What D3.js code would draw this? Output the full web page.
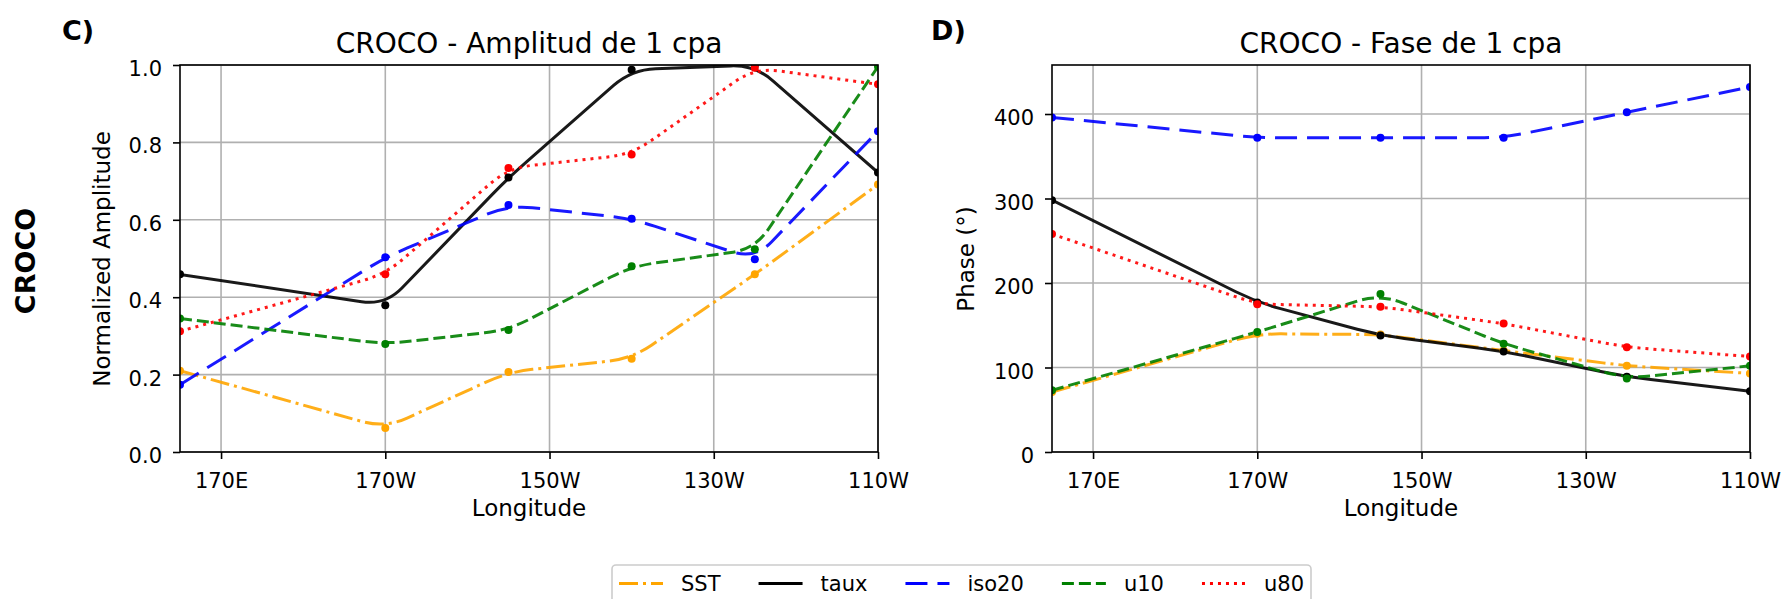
<!DOCTYPE html>
<html>
<head>
<meta charset="utf-8">
<script src="https://cdn.jsdelivr.net/npm/d3@7"></script>
<style>
  body { margin: 0; background: #fff; }
  svg { font-family: "DejaVu Sans", sans-serif; }
</style>
</head>
<body>
<div id="chart"></div>
<script>
// longitudes of the moorings (degrees east)
var lons = [165, 190, 205, 220, 235, 250];
var xTickValues = [170, 190, 210, 230, 250];
var xTickLabels = ["170E", "170W", "150W", "130W", "110W"];

var seriesNames = ["SST", "taux", "iso20", "u10", "u80"];

// panel C - normalized amplitude
var ampSST   = [0.210, 0.062, 0.207, 0.241, 0.459, 0.691];
var ampTaux  = [0.459, 0.379, 0.709, 0.988, 1.000, 0.722];
var ampIso20 = [0.174, 0.503, 0.638, 0.603, 0.498, 0.829];
var ampU10   = [0.345, 0.279, 0.315, 0.480, 0.524, 0.996];
var ampU80   = [0.312, 0.459, 0.734, 0.769, 0.993, 0.950];
var ampTicks = [0, 0.2, 0.4, 0.6, 0.8, 1.0];

// panel D - phase (degrees)
var phaseSST   = [71, 140, 139, 120, 102, 93];
var phaseTaux  = [298, 177, 138, 119, 89, 72];
var phaseIso20 = [396, 372, 372, 372, 402, 432];
var phaseU10   = [73, 142, 187, 128, 87, 102];
var phaseU80   = [258, 175, 172, 152, 124, 113];
var phaseTicks = [0, 100, 200, 300, 400];

// styles
var colors = ["#ffa500", "#000000", "#0000ff", "#008000", "#ff0000"];
var dashes = ["19,5,3,5", null, "22,10", "12,5", "3,5"];

var plotTop = 65, plotBottom = 452, plotWidth = 698;

var svg = d3.select("#chart").append("svg")
    .attr("width", 1785)
    .attr("height", 599);

// straight segments with softened corners (the original lines are lightly smoothed)
function softLine(pts, r) {
  var p = d3.path();
  p.moveTo(pts[0][0], pts[0][1]);
  for (var i = 1; i < pts.length - 1; i++) {
    var a = pts[i - 1], c = pts[i], b = pts[i + 1];
    var d1 = Math.hypot(c[0] - a[0], c[1] - a[1]);
    var d2 = Math.hypot(b[0] - c[0], b[1] - c[1]);
    var t1 = Math.min(r, d1 / 2) / d1, t2 = Math.min(r, d2 / 2) / d2;
    p.lineTo(c[0] - (c[0] - a[0]) * t1, c[1] - (c[1] - a[1]) * t1);
    p.quadraticCurveTo(c[0], c[1], c[0] + (b[0] - c[0]) * t2, c[1] + (b[1] - c[1]) * t2);
  }
  var last = pts[pts.length - 1];
  p.lineTo(last[0], last[1]);
  return p.toString();
}

function drawPanel(p) {
  var x = d3.scaleLinear().domain([165, 250]).range([p.left, p.left + plotWidth]);
  var y = d3.scaleLinear().domain([0, p.yMax]).range([plotBottom, plotTop]);
  var g = svg.append("g");

  g.append("clipPath").attr("id", "clip-" + p.key)
    .append("rect")
    .attr("x", p.left).attr("y", plotTop)
    .attr("width", plotWidth).attr("height", plotBottom - plotTop);

  // grid
  g.append("g").selectAll("line").data(xTickValues).join("line")
      .attr("x1", function(d) { return x(d); })
      .attr("x2", function(d) { return x(d); })
      .attr("y1", plotTop).attr("y2", plotBottom)
      .attr("stroke", "#b0b0b0").attr("stroke-width", 1.6);
  g.append("g").selectAll("line").data(p.yTicks).join("line")
      .attr("x1", p.left).attr("x2", p.left + plotWidth)
      .attr("y1", function(d) { return y(d); })
      .attr("y2", function(d) { return y(d); })
      .attr("stroke", "#b0b0b0").attr("stroke-width", 1.6);

  var plot = g.append("g").attr("clip-path", "url(#clip-" + p.key + ")");
  plot.selectAll("path").data(p.series).join("path")
      .attr("d", function(d) {
        return softLine(d.map(function(v, i) { return [x(lons[i]), y(v)]; }), 24);
      })
      .attr("fill", "none")
      .attr("stroke", function(d, i) { return colors[i]; })
      .attr("stroke-width", 3)
      .attr("stroke-opacity", 0.9)
      .attr("stroke-dasharray", function(d, i) { return dashes[i]; });

  p.series.forEach(function(vals, si) {
    plot.append("g").selectAll("circle").data(vals).join("circle")
        .attr("cx", function(d, i) { return x(lons[i]); })
        .attr("cy", function(d) { return y(d); })
        .attr("r", 4)
        .attr("fill", colors[si]);
  });

  // frame
  g.append("rect")
      .attr("x", p.left).attr("y", plotTop)
      .attr("width", plotWidth).attr("height", plotBottom - plotTop)
      .attr("fill", "none").attr("stroke", "#000").attr("stroke-width", 1.6);

  // axes
  var xAxis = g.append("g")
      .attr("transform", "translate(0," + plotBottom + ")")
      .call(d3.axisBottom(x).tickValues(xTickValues)
        .tickFormat(function(d, i) { return xTickLabels[i]; })
        .tickSize(7).tickSizeOuter(0));
  xAxis.select(".domain").remove();
  xAxis.attr("font-size", 21).attr("font-family", null);
  xAxis.selectAll("line").attr("stroke-width", 1.6);
  xAxis.selectAll("text").attr("y", 36).attr("dy", null).attr("fill", "#000");

  var yAxis = g.append("g")
      .attr("transform", "translate(" + p.left + ",0)")
      .call(d3.axisLeft(y).tickValues(p.yTicks).tickFormat(p.fmt)
        .tickSize(7).tickPadding(11).tickSizeOuter(0));
  yAxis.select(".domain").remove();
  yAxis.attr("font-size", 21).attr("font-family", null);
  yAxis.selectAll("line").attr("stroke-width", 1.6);
  yAxis.selectAll("text").attr("dy", "0.5em").attr("fill", "#000");

  // labels
  g.append("text")
      .attr("x", p.left + plotWidth / 2).attr("y", 53)
      .attr("text-anchor", "middle").attr("font-size", 28)
      .text(p.title);
  g.append("text")
      .attr("x", p.left + plotWidth / 2).attr("y", 516)
      .attr("text-anchor", "middle").attr("font-size", 23)
      .text("Longitude");
  g.append("text")
      .attr("transform", "translate(" + p.ylabelX + ",259) rotate(-90)")
      .attr("text-anchor", "middle").attr("font-size", 23)
      .text(p.ylabel);
  g.append("text")
      .attr("x", p.letterX).attr("y", 39.5)
      .attr("font-size", 27).attr("font-weight", "bold")
      .text(p.letter);
}

drawPanel({
  key: "amp", left: 180, yMax: 1.0, yTicks: ampTicks, fmt: d3.format(".1f"),
  series: [ampSST, ampTaux, ampIso20, ampU10, ampU80],
  title: "CROCO - Amplitud de 1 cpa", ylabel: "Normalized Amplitude",
  ylabelX: 110, letter: "C)", letterX: 62
});

drawPanel({
  key: "phase", left: 1052, yMax: 458, yTicks: phaseTicks, fmt: d3.format("d"),
  series: [phaseSST, phaseTaux, phaseIso20, phaseU10, phaseU80],
  title: "CROCO - Fase de 1 cpa", ylabel: "Phase (°)",
  ylabelX: 974, letter: "D)", letterX: 931
});

// row label
svg.append("text")
    .attr("transform", "translate(35,261) rotate(-90)")
    .attr("text-anchor", "middle").attr("font-size", 27).attr("font-weight", "bold")
    .text("CROCO");

// legend
var legX = 612, legW = 699, legY = 565;
var legend = svg.append("g");
legend.append("rect")
    .attr("x", legX).attr("y", legY).attr("width", legW).attr("height", 60)
    .attr("rx", 4).attr("fill", "#fff").attr("stroke", "#cccccc").attr("stroke-width", 1.6);

var labels = legend.selectAll("text").data(seriesNames).join("text")
    .attr("font-size", 21).attr("y", 591)
    .text(function(d) { return d; });
var widths = [];
labels.each(function() { widths.push(this.getComputedTextLength()); });
var handleLen = 44, handlePad = 18, border = 7;
var used = d3.sum(widths) + seriesNames.length * (handleLen + handlePad);
var colGap = (legW - 2 * border - used) / (seriesNames.length - 1);
var cx = legX + border;
seriesNames.forEach(function(name, i) {
  legend.append("line")
      .attr("x1", cx).attr("x2", cx + handleLen)
      .attr("y1", 583.5).attr("y2", 583.5)
      .attr("stroke", colors[i]).attr("stroke-width", 3)
      .attr("stroke-dasharray", dashes[i]);
  d3.select(labels.nodes()[i]).attr("x", cx + handleLen + handlePad);
  cx += handleLen + handlePad + widths[i] + colGap;
});
</script>
</body>
</html>
